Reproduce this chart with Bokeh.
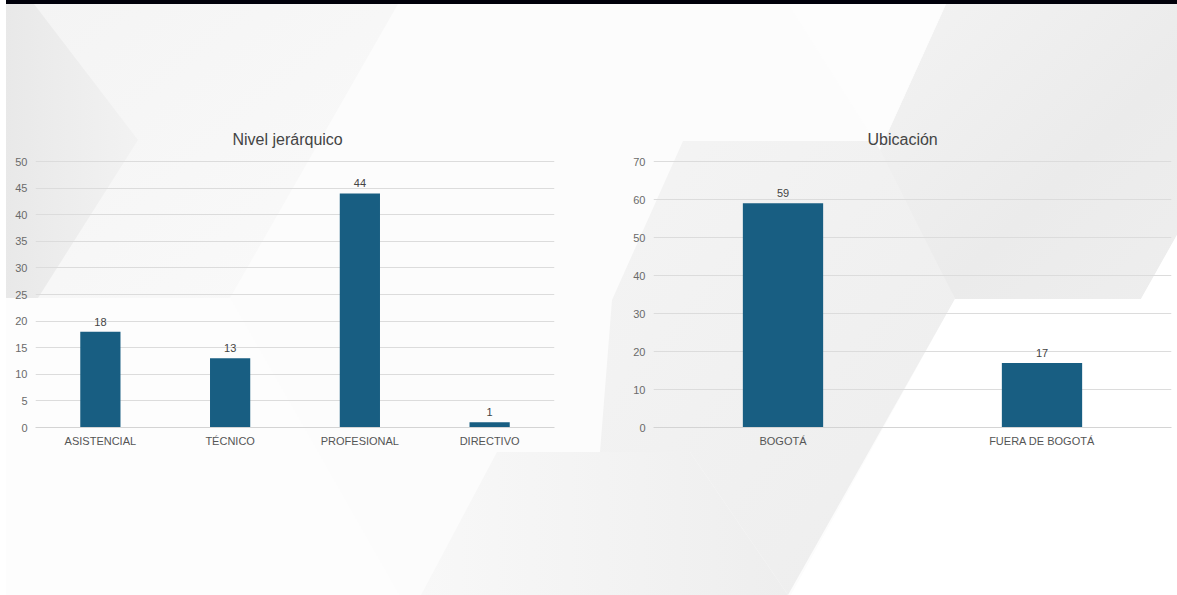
from urllib.parse import quote

from bokeh.plotting import figure
from bokeh.layouts import row
from bokeh.models import FixedTicker, Range1d, FactorRange
from bokeh.core.properties import value
from bokeh.embed import file_html
from bokeh.resources import INLINE

# ---- data ----
nivel_cats = ["ASISTENCIAL", "TÉCNICO", "PROFESIONAL", "DIRECTIVO"]
nivel_vals = [18, 13, 44, 1]
nivel_ticks = [0, 5, 10, 15, 20, 25, 30, 35, 40, 45, 50]

ubic_cats = ["BOGOTÁ", "FUERA DE BOGOTÁ"]
ubic_vals = [59, 17]
ubic_ticks = [0, 10, 20, 30, 40, 50, 60, 70]

FONT = "Liberation Sans"
BAR = "#185e82"
W, H = 1177, 595

# ---- background (decorative hexagon shapes) ----
svg = f"""<svg xmlns='http://www.w3.org/2000/svg' width='{W}' height='{H}'>
<defs>
<linearGradient id='g1' x1='0' y1='0' x2='1' y2='0'><stop offset='0' stop-color='#e8e8e8'/><stop offset='1' stop-color='#f2f2f2'/></linearGradient>
<linearGradient id='g2' x1='0' y1='0' x2='1' y2='1'><stop offset='0' stop-color='#f4f4f4'/><stop offset='1' stop-color='#fafafa'/></linearGradient>
<linearGradient id='g3' x1='0' y1='0' x2='1' y2='1'><stop offset='0' stop-color='#f3f3f3'/><stop offset='0.6' stop-color='#ebebeb'/><stop offset='1' stop-color='#eeeeee'/></linearGradient>
<linearGradient id='g4' x1='0' y1='0' x2='1' y2='1'><stop offset='0' stop-color='#f4f4f4'/><stop offset='1' stop-color='#ededed'/></linearGradient>
<linearGradient id='g5' x1='0' y1='0' x2='1' y2='0'><stop offset='0' stop-color='#f8f8f8'/><stop offset='1' stop-color='#eeeeee'/></linearGradient>
</defs>
<rect x='0' y='0' width='{W}' height='{H}' fill='#fcfcfc'/>
<polygon points='34,4 398,4 230,298 38,298' fill='url(#g2)'/>
<polygon points='0,4 34,4 138,140 38,298 0,298' fill='url(#g1)'/>
<polygon points='683,141 880,141 955,299 788,595 690,452 600,452 612,300' fill='url(#g4)'/>
<polygon points='946,4 1177,4 1177,235 1141,299 955,299 880,150' fill='url(#g3)'/>
<polygon points='497,452 690,452 788,595 421,595' fill='url(#g5)'/>
<polygon points='955,299 1141,299 1177,235 1177,600 788,600' fill='#ffffff'/>
<polygon points='788,4 946,4 880,150' fill='#fdfdfd'/>
<polygon points='0,298 230,298 318,452 402,600 0,600' fill='#fdfdfd'/>
<rect x='0' y='0' width='6' height='{H}' fill='#ffffff'/>
<rect x='6' y='0' width='{W}' height='4' fill='#00000a'/>
</svg>"""

bg_styles = {
    "background-image": f'url("data:image/svg+xml;utf8,{quote(svg, safe="")}")',
    "background-repeat": "no-repeat",
    "background-size": f"{W}px {H}px",
}

FRAME_TOP = 159      # 2px of headroom so the top grid line is not clipped
FRAME_BOTTOM = 427
PX_PER_TOP = 266     # pixels between the baseline and the top tick


def make_chart(title, cats, vals, ticks, ymax, width, border_left, border_right,
               bar_w, title_offset):
    frame_h = FRAME_BOTTOM - FRAME_TOP
    p = figure(
        width=width, height=H,
        x_range=FactorRange(*cats),
        y_range=Range1d(0, ymax * frame_h / PX_PER_TOP),
        output_backend="svg", toolbar_location=None,
        min_border_left=border_left, min_border_right=border_right,
        min_border_top=FRAME_TOP, min_border_bottom=H - FRAME_BOTTOM,
        title=title,
    )
    p.background_fill_alpha = 0
    p.border_fill_alpha = 0
    p.outline_line_color = None

    p.title.align = "left"
    p.title.offset = title_offset
    p.title.text_font = FONT
    p.title.text_font_size = "16px"
    p.title.text_font_style = "normal"
    p.title.text_color = "#444444"
    p.title.standoff = 23

    p.vbar(x=cats, top=vals, width=bar_w, color=BAR, line_color=None)
    p.text(x=cats, y=vals, text=[str(v) for v in vals],
           text_align="center", text_baseline="bottom", y_offset=-6,
           text_font=value(FONT), text_font_size="11px", text_color="#444444")

    p.yaxis.ticker = FixedTicker(ticks=ticks)
    p.yaxis.axis_line_color = None
    p.yaxis.major_tick_line_color = None
    p.yaxis.minor_tick_line_color = None
    p.yaxis.major_tick_out = 0
    p.yaxis.major_tick_in = 0
    p.yaxis.minor_tick_out = 0
    p.yaxis.major_label_standoff = 8
    p.yaxis.major_label_text_font = FONT
    p.yaxis.major_label_text_font_size = "11px"
    p.yaxis.major_label_text_color = "#6a6a6a"

    p.xaxis.axis_line_color = "#d4d4d4"
    p.xaxis.major_tick_line_color = None
    p.xaxis.minor_tick_line_color = None
    p.xaxis.major_tick_out = 0
    p.xaxis.major_tick_in = 0
    p.xaxis.major_label_standoff = 7
    p.xaxis.major_label_text_font = FONT
    p.xaxis.major_label_text_font_size = "11px"
    p.xaxis.major_label_text_color = "#555555"

    p.xgrid.grid_line_color = None
    p.ygrid.grid_line_color = "#dcdcdc"
    p.ygrid.grid_line_width = 1
    return p


p1 = make_chart("Nivel jerárquico", nivel_cats, nivel_vals, nivel_ticks, 50,
                600, 35, 46, 0.31, 197)
p2 = make_chart("Ubicación", ubic_cats, ubic_vals, ubic_ticks, 70,
                577, 53, 6, 0.31, 214)

layout = row(p1, p2, styles=bg_styles)

open("out.html", "w").write(file_html(layout, INLINE))
